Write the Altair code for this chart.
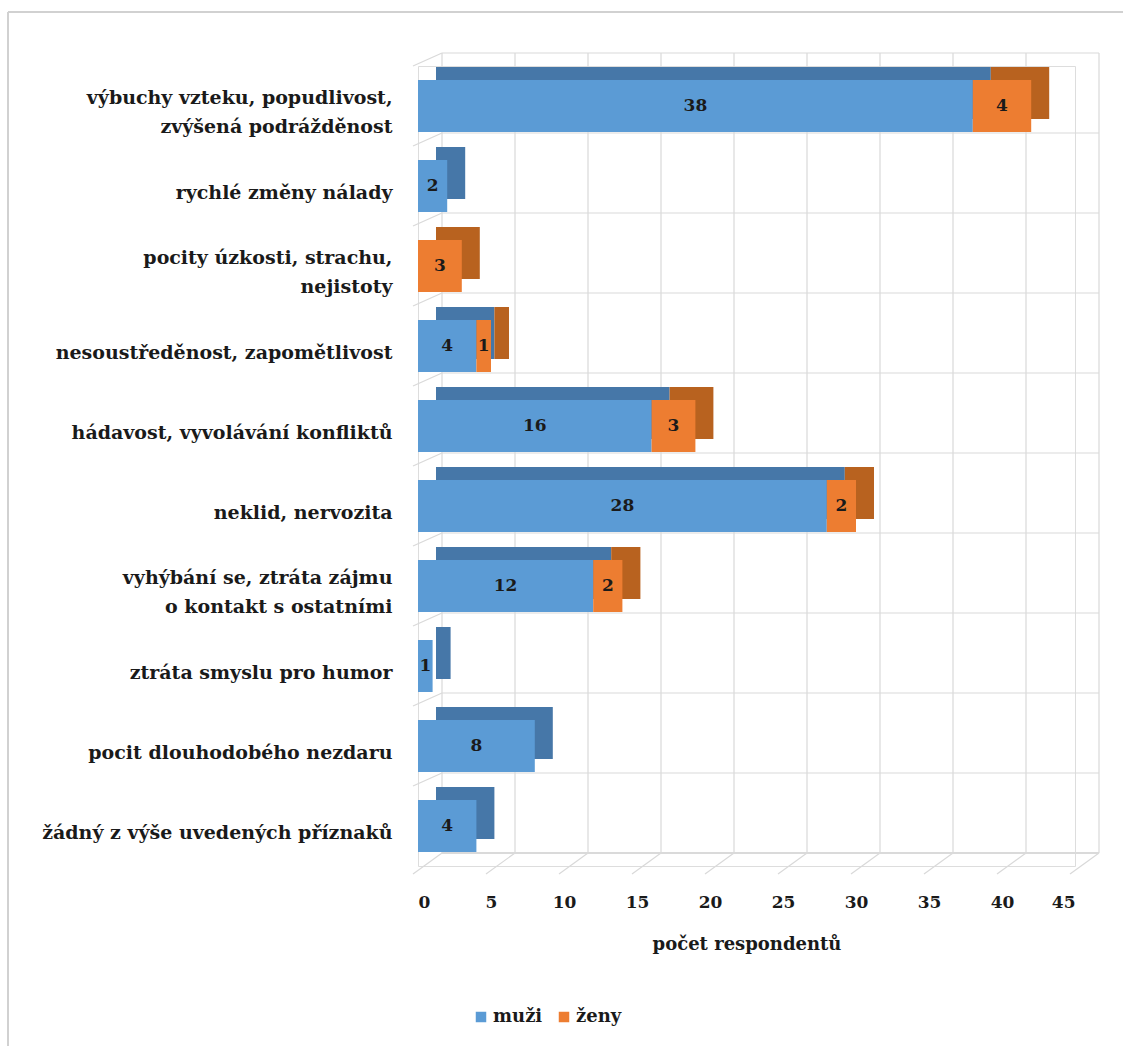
import altair as alt
import pandas as pd

categories = [
    "výbuchy vzteku, popudlivost,\nzvýšená podrážděnost",
    "rychlé změny nálady",
    "pocity úzkosti, strachu,\nnejistoty",
    "nesoustředěnost, zapomětlivost",
    "hádavost, vyvolávání konfliktů",
    "neklid, nervozita",
    "vyhýbání se, ztráta zájmu\no kontakt s ostatními",
    "ztráta smyslu pro humor",
    "pocit dlouhodobého nezdaru",
    "žádný z výše uvedených příznaků",
]
muzi = [38, 2, 0, 4, 16, 28, 12, 1, 8, 4]
zeny = [4, 0, 3, 1, 3, 2, 2, 0, 0, 0]
series = ["muži", "ženy"]
ticks = [0, 5, 10, 15, 20, 25, 30, 35, 40, 45]
colors = ["#5B9BD5", "#ED7D31"]
dark_colors = ["#4677A8", "#B8621F"]

rows = []
for c, m, z in zip(categories, muzi, zeny):
    if m:
        rows.append({"kat": c, "pohlavi": "muži", "pocet": m, "poradi": 0})
    if z:
        rows.append({"kat": c, "pohlavi": "ženy", "pocet": z, "poradi": 1})
df = pd.DataFrame(rows)
df["stin"] = df["pohlavi"] + " stín"
cat_df = pd.DataFrame({"kat": categories})
tick_df = pd.DataFrame({"t": ticks})

FONT = "DejaVu Serif"
W, H = 657, 800
DX, DY = 18, -13      # bar depth
GX, GY = 24, -13      # back wall shift
GRID = "#d9d9d9"

xscale = alt.Scale(domain=[0, 45], nice=False)
yscale = alt.Scale(domain=categories, paddingInner=0.35, paddingOuter=0.175)

base = alt.Chart(df).transform_stack(
    stack="pocet", groupby=["kat"], as_=["x0", "x1"],
    sort=[alt.SortField("poradi", order="ascending")]
).transform_calculate(mid="(datum.x0 + datum.x1) / 2")

yenc = alt.Y("kat:N", sort=categories, title=None, scale=yscale,
             axis=alt.Axis(labelExpr="split(datum.label, '\\n')", labelFont=FONT,
                           labelFontSize=19, labelFontWeight="bold", labelColor="#1a1a1a",
                           labelLineHeight=29, ticks=False, domain=False, grid=False,
                           labelPadding=26, labelLimit=420,
                           labelOffset={"condition": {"test": "indexof(datum.label, '\\n') >= 0",
                                                      "value": -8}, "value": 7}))
xenc = alt.X("x0:Q", title="počet respondentů", scale=xscale,
             axis=alt.Axis(values=ticks, labelFont=FONT, labelFontSize=17,
                           labelFontWeight="bold", labelColor="#1a1a1a", ticks=False,
                           domain=False, grid=False, labelPadding=28,
                           titleFont=FONT, titleFontSize=18, titleFontWeight="bold",
                           titleColor="#1a1a1a", titlePadding=25))

# back wall vertical grid lines
vgrid = alt.Chart(tick_df).mark_rule(color=GRID, strokeWidth=1.2, xOffset=GX).encode(
    x=alt.X("t:Q", scale=xscale), y=alt.value(GY), y2=alt.value(H + GY))
# floor diagonal lines
fgrid = alt.Chart(tick_df).mark_rule(color=GRID, strokeWidth=1.2, xOffset=GX, x2Offset=-5).encode(
    x=alt.X("t:Q", scale=xscale), x2="t:Q", y=alt.value(H + GY), y2=alt.value(H + 8))
# back wall horizontal lines
hgrid = alt.Chart(cat_df).mark_rule(color=GRID, strokeWidth=1.2, yOffset=-40 + GY).encode(
    y=alt.Y("kat:N", sort=categories, scale=yscale), x=alt.value(GX), x2=alt.value(W + GX))
hbottom = alt.Chart(cat_df).mark_rule(color=GRID, strokeWidth=1.2).encode(
    y=alt.value(H + GY), x=alt.value(GX), x2=alt.value(W + GX))
# left wall diagonals
lgrid = alt.Chart(cat_df).mark_rule(color=GRID, strokeWidth=1.2, yOffset=-40,
                                    y2Offset=-40 + GY).encode(
    y=alt.Y("kat:N", sort=categories, scale=yscale), y2="kat:N",
    x=alt.value(-5), x2=alt.value(GX))

shadow = base.mark_bar(xOffset=DX, x2Offset=DX, yOffset=DY, y2Offset=DY).encode(
    y=yenc, x=xenc, x2="x1:Q",
    color=alt.Color("stin:N", scale=alt.Scale(domain=[s + " stín" for s in series],
                                              range=dark_colors), legend=None),
)

front = base.mark_bar().encode(
    y=yenc, x=xenc, x2="x1:Q",
    color=alt.Color("pohlavi:N", title=None,
                    scale=alt.Scale(domain=series, range=colors),
                    legend=alt.Legend(orient="none", direction="horizontal", legendX=54,
                                      legendY=942, symbolType="square", symbolSize=110,
                                      symbolStrokeWidth=0, labelFont=FONT, labelFontSize=18,
                                      labelFontWeight="bold", labelColor="#1a1a1a",
                                      columnPadding=12, labelOffset=3)),
)

labels = base.mark_text(font=FONT, fontSize=17, fontWeight="bold", color="#1a1a1a").encode(
    y=alt.Y("kat:N", sort=categories, scale=yscale),
    x=alt.X("mid:Q", scale=xscale),
    text="pocet:Q",
)

# outer frame (top and left edges visible)
frame_top = alt.Chart(cat_df).mark_rule(color="#d0d0d0", strokeWidth=1.5).encode(
    y=alt.value(-54), x=alt.value(-410), x2=alt.value(W + 60))
frame_left = alt.Chart(cat_df).mark_rule(color="#d0d0d0", strokeWidth=1.5).encode(
    x=alt.value(-410), y=alt.value(-54), y2=alt.value(H + 200))

chart = alt.layer(frame_top, frame_left, vgrid, fgrid, hgrid, hbottom, lgrid,
                  shadow, front, labels).resolve_scale(color="independent").properties(
    width=W, height=H,
    autosize=alt.AutoSizeParams(type="none"),
    padding={"left": 418, "top": 66, "right": 1123 - 418 - W, "bottom": 1046 - 66 - H},
).configure_view(stroke=None).configure(background="white")

chart.save("out.html", embed_options={"renderer": "svg", "actions": False})
